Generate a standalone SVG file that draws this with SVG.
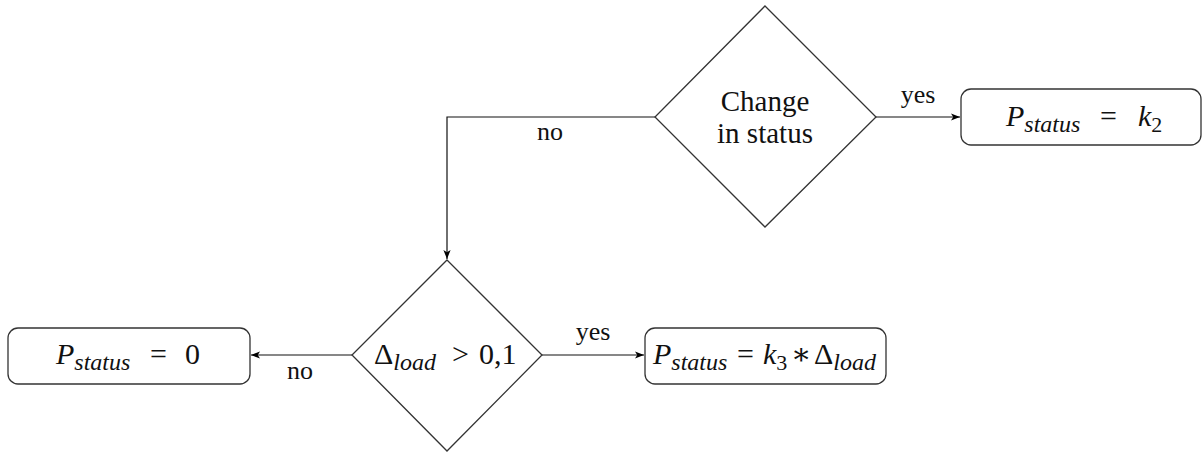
<svg xmlns="http://www.w3.org/2000/svg" width="1204" height="453" viewBox="0 0 1204 453">
<defs>
<marker id="arr" viewBox="0 0 10 10" refX="10" refY="5" markerWidth="9" markerHeight="9" markerUnits="userSpaceOnUse" orient="auto">
<path d="M0,1 L10,5 L0,9 L2.5,5 Z" fill="#000"/>
</marker>
<style>
.shape{fill:#fff;stroke:#333;stroke-width:1.3}
.edge{fill:none;stroke:#111;stroke-width:1.2}
.t{font-size:29px;fill:#111}
.m{font-size:30px;fill:#111}
.lbl{font-size:26px;fill:#111}
.i{font-style:italic}
.sub{font-size:24px;font-style:italic}
</style>
</defs>
<rect width="1204" height="453" fill="#fff"/>
<g id="connectors" font-family="'Liberation Serif', 'DejaVu Serif', serif">
<line class="edge" x1="876" y1="117" x2="960" y2="117" marker-end="url(#arr)"/>
<polyline class="edge" points="655,117 447,117 447,259" marker-end="url(#arr)"/>
<line class="edge" x1="352" y1="355" x2="251" y2="355" marker-end="url(#arr)"/>
<line class="edge" x1="542" y1="355" x2="644" y2="355" marker-end="url(#arr)"/>
<text class="lbl" x="918" y="103" text-anchor="middle">yes</text>
<text class="lbl" x="550" y="140" text-anchor="middle">no</text>
<text class="lbl" x="300" y="379" text-anchor="middle">no</text>
<text class="lbl" x="593" y="340" text-anchor="middle">yes</text>
</g>
<g id="n_change" font-family="'Liberation Serif', 'DejaVu Serif', serif">
<polygon class="shape" points="765,6 876,117 765,227 655,117"/>
<text class="t" x="765" y="111" text-anchor="middle">Change</text>
<text class="t" x="765" y="143" text-anchor="middle">in status</text>
</g>
<g id="n_k2" font-family="'Liberation Serif', 'DejaVu Serif', serif">
<rect class="shape" x="961" y="89" width="240" height="56" rx="10"/>
<text class="m" x="1006" y="126"><tspan class="i">P</tspan><tspan class="sub" dy="6">status</tspan><tspan x="1100" dy="-6">=</tspan><tspan class="i" x="1138">k</tspan><tspan font-size="22px" dy="6">2</tspan></text>
</g>
<g id="n_load" font-family="'Liberation Serif', 'DejaVu Serif', serif">
<polygon class="shape" points="447,260 542,355 447,451 352,355"/>
<text class="m" x="374" y="364">Δ<tspan class="sub" dy="6">load</tspan><tspan x="452" dy="-6">&gt;</tspan><tspan x="479">0,1</tspan></text>
</g>
<g id="n_zero" font-family="'Liberation Serif', 'DejaVu Serif', serif">
<rect class="shape" x="8" y="328" width="242" height="56" rx="10"/>
<text class="m" x="56" y="364"><tspan class="i">P</tspan><tspan class="sub" dy="6">status</tspan><tspan x="150" dy="-6">=</tspan><tspan x="185">0</tspan></text>
</g>
<g id="n_k3" font-family="'Liberation Serif', 'DejaVu Serif', serif">
<rect class="shape" x="645" y="328" width="241" height="56" rx="10"/>
<text class="m" x="653" y="364"><tspan class="i">P</tspan><tspan class="sub" dy="6">status</tspan><tspan x="737" dy="-6">=</tspan><tspan class="i" x="763">k</tspan><tspan font-size="22px" dy="6">3</tspan><tspan x="791" dy="-6">∗</tspan><tspan x="814">Δ</tspan><tspan class="sub" dy="6">load</tspan></text>
</g>
</svg>
